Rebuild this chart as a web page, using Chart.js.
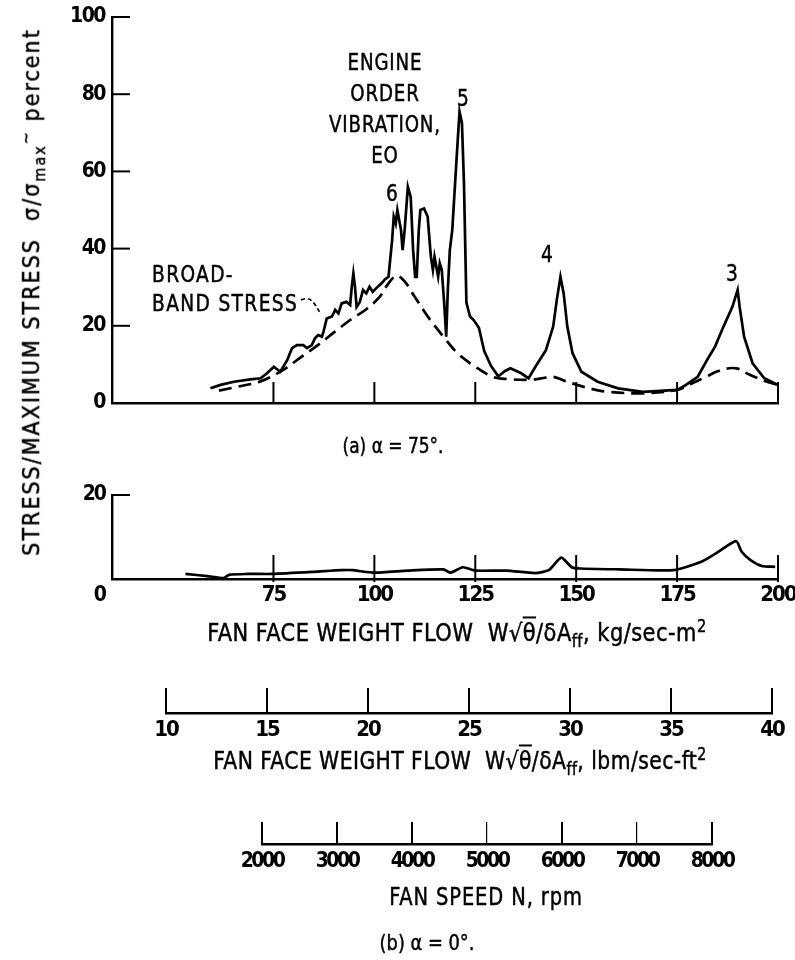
<!DOCTYPE html>
<html><head><meta charset="utf-8">
<script src="https://cdn.jsdelivr.net/npm/chart.js@4.4.1/dist/chart.umd.min.js"></script>
<style>
html,body{margin:0;padding:0;background:#fff;}
body{width:795px;height:960px;position:relative;overflow:hidden;font-family:'Liberation Sans Narrow','DejaVu Sans Condensed','Liberation Sans',sans-serif;color:#000;}
canvas{position:absolute;left:0;}
.t{position:absolute;white-space:nowrap;line-height:1;-webkit-text-stroke:0.45px #000;}
sub{font-size:0.7em;vertical-align:-0.35em;}
sup{font-size:0.7em;vertical-align:0.5em;}
.ov{text-decoration:overline;}
</style></head>
<body>
<canvas id="cTop" width="795" height="440" style="top:0px"></canvas>
<canvas id="cBot" width="795" height="200" style="top:460px"></canvas>
<canvas id="cLbm" width="795" height="110" style="top:670px"></canvas>
<canvas id="cRpm" width="795" height="90" style="top:800px"></canvas>

<div class="t" style="left:33px;top:292px;transform:translate(-50%,-50%) rotate(-90deg);font-size:23px;letter-spacing:2px;">STRESS/MAXIMUM STRESS&nbsp;&nbsp;σ/σ<sub>max</sub><sup>~</sup> percent</div>

<div class="t" style="left:385px;top:109px;transform:translate(-50%,-50%) scaleX(0.88);font-size:23px;line-height:31px;text-align:center;letter-spacing:1px;">ENGINE<br>ORDER<br>VIBRATION,<br>EO</div>
<div class="t" style="left:463px;top:98px;transform:translate(-50%,-50%) scaleX(0.9);font-size:23px;">5</div>
<div class="t" style="left:392px;top:193px;transform:translate(-50%,-50%) scaleX(0.9);font-size:23px;">6</div>
<div class="t" style="left:547px;top:254px;transform:translate(-50%,-50%) scaleX(0.9);font-size:23px;">4</div>
<div class="t" style="left:732px;top:273px;transform:translate(-50%,-50%) scaleX(0.9);font-size:23px;">3</div>
<div class="t" style="left:152px;top:274px;transform:translate(0,-50%) scaleX(0.9);transform-origin:0 50%;font-size:23px;letter-spacing:1.5px;">BROAD-</div>
<div class="t" style="left:152px;top:303px;transform:translate(0,-50%) scaleX(0.9);transform-origin:0 50%;font-size:23px;letter-spacing:1.5px;">BAND STRESS</div>
<svg style="position:absolute;left:0;top:0" width="795" height="960"><path d="M301 300 q7 -3 11 1 q4 4 8 12" fill="none" stroke="#000" stroke-width="1.6" stroke-dasharray="4 3"/></svg>
<div class="t" style="left:393px;top:446px;transform:translate(-50%,-50%) scaleX(0.9);font-size:21px;">(a) α = 75°.</div>

<div class="t" style="left:457px;top:634px;transform:translate(-50%,-50%) scaleX(0.97);font-size:24px;letter-spacing:0.5px;">FAN FACE WEIGHT FLOW&nbsp;&nbsp;W√<span class="ov">θ</span>/δA<sub>ff</sub>, kg/sec-m<sup>2</sup></div>
<div class="t" style="left:460px;top:762px;transform:translate(-50%,-50%) scaleX(0.94);font-size:24px;letter-spacing:0.5px;">FAN FACE WEIGHT FLOW&nbsp;&nbsp;W√<span class="ov">θ</span>/δA<sub>ff</sub>, lbm/sec-ft<sup>2</sup></div>
<div class="t" style="left:486px;top:897px;transform:translate(-50%,-50%) scaleX(0.9);font-size:24px;letter-spacing:1px;">FAN SPEED N, rpm</div>
<div class="t" style="left:427px;top:943px;transform:translate(-50%,-50%) scaleX(0.9);font-size:22px;">(b) α = 0°.</div>

<script>
// ---------- data ----------
const kgTicks = [75, 100, 125, 150, 175, 200];
const topYTicks = [0, 20, 40, 60, 80, 100];
const botYTicks = [0, 10, 20];
const lbmTicks = [10, 15, 20, 25, 30, 35, 40];
const rpmTicks = [2000, 3000, 4000, 5000, 6000, 7000, 8000];

// (a) alpha = 75 deg, measured stress
const topFlow = [59.4, 61.9, 65.2, 69.3, 71.8, 73.4, 75.1, 76.7, 78.4, 79.6, 80.8, 82.4, 83.3, 84.5, 85.3, 86.1, 87.0, 87.4, 88.2, 89.5,
  90.3, 91.1, 91.9, 93.1, 94.0, 94.4, 94.8, 95.2, 95.6, 96.4, 97.2, 98.0, 98.8, 99.6, 100.4, 101.8, 102.6, 103.5, 104.4, 104.8,
  105.3, 105.7, 106.6, 107.0, 107.5, 108.3, 109.0, 109.6, 110.1, 110.5, 111.0, 111.4, 112.3, 113.2, 114.0, 114.5, 114.9, 115.8, 116.2, 116.7,
  117.3, 117.8, 118.2, 118.7, 119.3, 119.7, 120.4, 121.1, 121.7, 122.2, 122.8, 123.7, 124.6, 125.9, 127.2, 128.9, 130.7, 132.4, 133.7, 136.4,
  138.2, 139.9, 142.5, 144.3, 145.2, 146.1, 146.9, 147.8, 149.1, 151.3, 155.3, 160.4, 166.5, 175.1, 177.2, 180.1, 182.9, 184.4, 186.5, 188.7,
  190.0, 190.5, 191.6, 193.7, 196.6, 199.9];
const topStress = [3.8, 4.7, 5.5, 6.1, 6.4, 7.7, 9.4, 8.1, 11.1, 14.2, 15.0, 15.0, 14.2, 15.0, 16.8, 17.6, 17.2, 18.5, 21.9, 22.4,
  24.1, 23.2, 25.8, 26.2, 25.4, 30.1, 33.6, 30.1, 24.9, 26.2, 29.3, 28.4, 30.1, 28.8, 29.7, 31.0, 32.0, 32.7, 42.2, 48.3,
  46.5, 50.0, 44.8, 39.6, 44.8, 56.0, 53.4, 39.6, 32.7, 32.7, 44.8, 50.0, 50.4, 48.3, 37.9, 34.5, 37.9, 32.7, 36.2, 34.5,
  25.8, 17.2, 29.3, 39.6, 44.8, 51.7, 63.8, 75.5, 72.5, 56.9, 26.0, 22.4, 21.5, 19.5, 13.5, 9.6, 6.9, 8.3, 9.0, 7.7,
  6.4, 9.4, 13.7, 19.8, 26.7, 32.7, 28.4, 19.8, 12.9, 8.1, 5.5, 3.8, 2.9, 3.4, 4.7, 6.8, 12.0, 14.6, 19.8, 24.9,
  29.3, 24.9, 17.2, 10.3, 6.4, 4.7];

// (a) broadband stress (dashed)
const broadFlow = [61.5, 66.0, 71.8, 77.0, 82.0, 86.0, 90.0, 94.0, 98.0, 101.3, 103.5, 105.5, 107.5, 110.0, 113.5, 117.1, 120.6, 125.0, 129.3, 133.0,
  138.2, 141.0, 144.3, 147.0, 150.2, 154.0, 157.9, 166.5, 175.1, 178.5, 182.2, 185.0, 187.9, 190.0, 193.0, 196.5, 199.9];
const broadStress = [3.2, 4.2, 5.6, 8.3, 12.0, 15.0, 18.3, 21.5, 24.3, 27.5, 31.0, 33.0, 31.5, 27.5, 22.0, 17.2, 12.9, 9.4, 6.8, 6.2,
  6.0, 6.3, 6.8, 5.8, 4.7, 3.6, 2.9, 2.5, 3.4, 5.0, 6.8, 8.2, 9.0, 8.9, 7.3, 5.8, 4.7];

// (b) alpha = 0 deg
const botFlow = [53.2, 58.6, 62.7, 64.0, 68.5, 74.7, 85.0, 91.8, 94.6, 100.0, 108.3, 117.1, 118.9, 121.9, 125.0, 132.8, 139.8, 143.2, 146.3, 148.9,
  151.0, 160.5, 174.2, 181.0, 184.6, 189.6, 191.0, 193.2, 196.0, 199.3];
const botStress = [1.2, 0.7, 0.2, 1.0, 1.2, 1.2, 1.7, 2.1, 2.1, 1.5, 2.0, 2.3, 1.5, 2.8, 2.0, 2.0, 1.4, 2.1, 5.1, 2.8,
  2.5, 2.3, 2.1, 4.1, 6.1, 9.0, 6.5, 4.5, 3.1, 2.9];

// ---------- helpers ----------
const FONT = "'Liberation Sans Narrow','DejaVu Sans Condensed','Liberation Sans',sans-serif";
Chart.defaults.font.family = FONT;
Chart.defaults.color = '#000';
const pts = (xs, ys) => xs.map((x, i) => ({x: x, y: ys[i]}));
const setTicks = arr => s => { s.ticks = arr.map(v => ({value: v})); };
const fixW = w => s => { s.width = w; s.paddingTop = 0; s.paddingBottom = 0; s.paddingLeft = 0; s.paddingRight = 0; };
const fixH = h => s => { s.height = h; s.paddingTop = 0; s.paddingBottom = 0; s.paddingLeft = 0; s.paddingRight = 0; };
const plain = v => String(v);

// condensed look for tick numerals
const tightText = {
  id: 'tightText',
  beforeDraw(chart, args, opts) { chart.ctx.letterSpacing = (opts.spacing || 0) + 'px'; }
};

// tick marks pointing into the plot
const innerTicks = {
  id: 'innerTicks',
  afterDatasetsDraw(chart, args, opts) {
    const ctx = chart.ctx;
    ctx.save();
    ctx.strokeStyle = '#000';
    ctx.lineWidth = opts.width || 2;
    (opts.scales || []).forEach(cfg => {
      const s = chart.scales[cfg.id];
      s.ticks.forEach(t => {
        const p = s.getPixelForValue(t.value);
        ctx.beginPath();
        if (s.isHorizontal()) { ctx.moveTo(p, s.top + (cfg.out || 0)); ctx.lineTo(p, s.top - cfg.len); }
        else { ctx.moveTo(s.right - (cfg.out || 0), p); ctx.lineTo(s.right + cfg.len, p); }
        ctx.stroke();
      });
    });
    ctx.restore();
  }
};

const base = {responsive: false, animation: false, devicePixelRatio: 1, events: []};
const noPlug = {legend: {display: false}, tooltip: {enabled: false}};
const axisBorder = {display: true, color: '#000', width: 2.4};
const noGrid = {display: false, drawTicks: false, tickLength: 0};

// ---------- (a) top chart ----------
new Chart(document.getElementById('cTop'), {
  type: 'line',
  data: {datasets: [
    {data: pts(topFlow, topStress), borderColor: '#000', borderWidth: 2.7, pointRadius: 0, tension: 0, fill: false},
    {data: pts(broadFlow, broadStress), borderColor: '#000', borderWidth: 2.7, borderDash: [13, 7], pointRadius: 0, tension: 0.35, fill: false}
  ]},
  options: Object.assign({}, base, {
    layout: {padding: {left: 0, right: 17, top: 17, bottom: 0}},
    plugins: Object.assign({}, noPlug, {
      tightText: {spacing: -1.5},
      innerTicks: {width: 2, scales: [{id: 'x', len: 21}, {id: 'y', len: 18}]}
    }),
    scales: {
      x: {type: 'linear', min: 35, max: 200, afterBuildTicks: setTicks(kgTicks), afterFit: fixH(37),
          ticks: {display: false}, grid: noGrid, border: axisBorder},
      y: {type: 'linear', min: 0, max: 100, afterBuildTicks: setTicks(topYTicks), afterFit: fixW(112),
          ticks: {padding: 7, font: {size: 21, weight: 'bold'}, color: '#000', callback: plain},
          grid: noGrid, border: axisBorder}
    }
  }),
  plugins: [tightText, innerTicks]
});

// ---------- (b) bottom chart ----------
new Chart(document.getElementById('cBot'), {
  type: 'line',
  data: {datasets: [
    {data: pts(botFlow, botStress), borderColor: '#000', borderWidth: 2.7, pointRadius: 0, tension: 0.2, fill: false}
  ]},
  options: Object.assign({}, base, {
    layout: {padding: {left: 0, right: 17, top: 35, bottom: 0}},
    plugins: Object.assign({}, noPlug, {
      tightText: {spacing: -2},
      innerTicks: {width: 2, scales: [{id: 'x', len: 24, out: 3}, {id: 'y', len: 18}]}
    }),
    scales: {
      x: {type: 'linear', min: 35, max: 200, afterBuildTicks: setTicks(kgTicks), afterFit: fixH(81),
          ticks: {padding: 3, font: {size: 22, weight: 'bold'}, color: '#000', callback: plain},
          grid: noGrid, border: axisBorder},
      y: {type: 'linear', min: 0, max: 20, afterBuildTicks: setTicks(botYTicks), afterFit: fixW(112),
          ticks: {padding: 7, font: {size: 21, weight: 'bold', lineHeight: 1.6}, color: '#000',
                  callback: v => v === 0 ? ['', '0'] : (v === 20 ? '20' : '')},
          grid: noGrid, border: axisBorder}
    }
  }),
  plugins: [tightText, innerTicks]
});

// ---------- lbm/sec-ft2 scale ----------
new Chart(document.getElementById('cLbm'), {
  type: 'line',
  data: {datasets: []},
  options: Object.assign({}, base, {
    layout: {padding: {left: 166, right: 23, top: 18, bottom: 0}},
    plugins: Object.assign({}, noPlug, {tightText: {spacing: -2}}),
    scales: {
      x: {type: 'linear', min: 10, max: 40, afterBuildTicks: setTicks(lbmTicks), afterFit: fixH(67),
          ticks: {padding: 4, font: {size: 22, weight: 'bold'}, color: '#000', callback: plain},
          grid: {display: true, drawOnChartArea: true, drawTicks: false, color: '#000', lineWidth: 2},
          border: axisBorder},
      y: {display: false, min: 0, max: 1}
    }
  }),
  plugins: [tightText]
});

// ---------- rpm scale ----------
new Chart(document.getElementById('cRpm'), {
  type: 'line',
  data: {datasets: []},
  options: Object.assign({}, base, {
    layout: {padding: {left: 262, right: 83, top: 22, bottom: 0}},
    plugins: Object.assign({}, noPlug, {tightText: {spacing: -2.5}}),
    scales: {
      x: {type: 'linear', min: 2000, max: 8000, afterBuildTicks: setTicks(rpmTicks), afterFit: fixH(46),
          ticks: {padding: 5, font: {size: 21, weight: 'bold'}, color: '#000', callback: plain},
          grid: {display: true, drawOnChartArea: true, drawTicks: false, color: '#000',
                 lineWidth: c => (c.tick && (c.tick.value === 5000 || c.tick.value === 7000)) ? 1.2 : 2},
          border: axisBorder},
      y: {display: false, min: 0, max: 1}
    }
  }),
  plugins: [tightText]
});
</script>
</body></html>
